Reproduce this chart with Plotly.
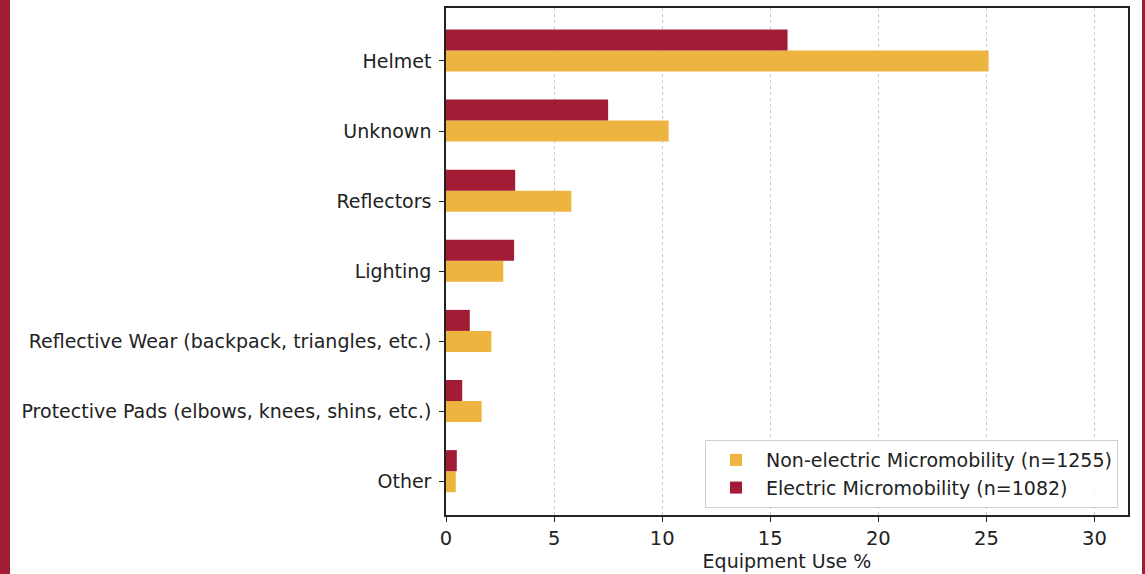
import plotly.graph_objects as go

categories = ["Other", "Protective Pads (elbows, knees, shins, etc.)",
              "Reflective Wear (backpack, triangles, etc.)", "Lighting",
              "Reflectors", "Unknown", "Helmet"]
non_electric = [0.45, 1.65, 2.1, 2.65, 5.8, 10.3, 25.1]
electric = [0.5, 0.75, 1.1, 3.15, 3.2, 7.5, 15.8]
non_electric_name = "Non-electric Micromobility (n=1255)"
electric_name = "Electric Micromobility (n=1082)"
x_ticks = [0, 5, 10, 15, 20, 25, 30]

GOLD = "#EDB440"
CRIMSON = "#A31C35"
H = 0.3

idx = list(range(len(categories)))

fig = go.Figure()
fig.add_trace(go.Bar(
    y=idx, x=non_electric, orientation="h", width=H,
    marker=dict(color=GOLD, line=dict(width=0)),
    name=non_electric_name, showlegend=True))
fig.add_trace(go.Bar(
    y=[i + H for i in idx], x=electric, orientation="h", width=H,
    marker=dict(color=CRIMSON, line=dict(width=0)),
    name=electric_name, showlegend=True))

W, Hh = 1145, 574
L, R, T, B = 446, 17, 8, 59
pw = W - L - R

fig.update_layout(
    width=W, height=Hh,
    margin=dict(l=L, r=R, t=T, b=B),
    paper_bgcolor="white", plot_bgcolor="white",
    barmode="overlay",
    font=dict(family="DejaVu Sans", size=19, color="#222"),
    legend=dict(
        x=(1118 - L) / pw, y=(Hh - B - 508) / (Hh - T - B),
        xanchor="right", yanchor="bottom",
        bgcolor="rgba(255,255,255,0.85)", bordercolor="#d0d0d0", borderwidth=1,
        font=dict(size=19, color="#222"), traceorder="normal",
        itemwidth=50, tracegroupgap=0),
    xaxis=dict(
        range=[0, 31.55], tickvals=x_ticks, ticks="outside", ticklen=5,
        tickwidth=1.2, tickcolor="#222", tickfont=dict(size=19.5),
        showline=True, linecolor="#222", linewidth=1.5, mirror=True,
        showgrid=True, gridcolor="#c8c8c8", griddash="dot", gridwidth=1,
        zeroline=False, automargin=False,
        title=dict(text="Equipment Use %", standoff=6, font=dict(size=19)),
    ),
    yaxis=dict(
        range=[-0.475, 6.755], tickvals=idx, ticktext=categories,
        ticks="outside", ticklen=5, tickwidth=1.2, tickcolor="#222",
        tickfont=dict(size=19), ticklabelstandoff=4,
        showline=True, linecolor="#222", linewidth=1.5, mirror=True,
        showgrid=False, zeroline=False,
    ),
    shapes=[
        dict(type="rect", xref="paper", yref="paper",
             x0=(0 - L) / pw, x1=(10 - L) / pw, y0=-0.3, y1=1.3,
             fillcolor=CRIMSON, line=dict(width=0), layer="above"),
        dict(type="rect", xref="paper", yref="paper",
             x0=(1142 - L) / pw, x1=(1146 - L) / pw, y0=-0.3, y1=1.3,
             fillcolor=CRIMSON, line=dict(width=0), layer="above"),
    ],
)

fig.write_html("out.html")
